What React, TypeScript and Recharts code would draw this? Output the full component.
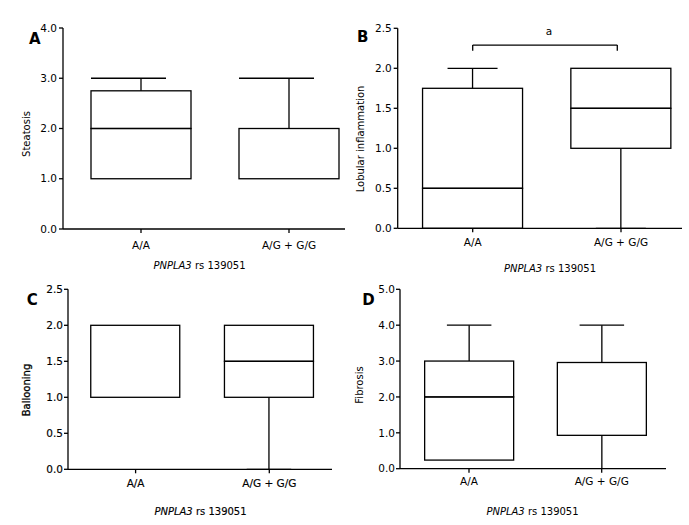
import React from 'react';
import { ComposedChart, Bar, XAxis, YAxis, ReferenceLine } from 'recharts';

// ---------- data ----------
const categories = ['A/A', 'A/G + G/G'];
const xTitleItalic = 'PNPLA3';
const xTitleRest = ' rs 139051';

const steatosisMin = [1.0, 1.0];
const steatosisQ1 = [1.0, 1.0];
const steatosisMedian = [2.0, 2.0];
const steatosisQ3 = [2.75, 2.0];
const steatosisMax = [3.0, 3.0];
const steatosisTicks = [0, 1, 2, 3, 4];

const lobularMin = [0, 0];
const lobularQ1 = [0, 1.0];
const lobularMedian = [0.5, 1.5];
const lobularQ3 = [1.75, 2.0];
const lobularMax = [2.0, 2.0];
const lobularTicks = [0, 0.5, 1, 1.5, 2, 2.5];
const lobularBracket = { from: 0, to: 0.975, level: 2.29, foot: 2.22, label: 'a' };

const ballooningMin = [1.0, 0];
const ballooningQ1 = [1.0, 1.0];
const ballooningMedian = [2.0, 1.5];
const ballooningQ3 = [2.0, 2.0];
const ballooningMax = [2.0, 2.0];
const ballooningTicks = [0, 0.5, 1, 1.5, 2, 2.5];

const fibrosisMin = [0.24, 0];
const fibrosisQ1 = [0.24, 0.93];
const fibrosisMedian = [2.0, 2.96];
const fibrosisQ3 = [3.0, 2.96];
const fibrosisMax = [4.0, 4.0];
const fibrosisTicks = [0, 1, 2, 3, 4, 5];

// ---------- styles ----------
const FONT = '"DejaVu Sans", Verdana, sans-serif';
const STROKE = '#000';
const SW = 1.3;
const TEXT = '#000';

function buildRows(min: number[], q1: number[], med: number[], q3: number[], max: number[]) {
  return categories.map((name, i) => ({
    idx: i,
    name,
    base: min[i],
    lowWhisker: q1[i] - min[i],
    lowBox: med[i] - q1[i],
    highBox: q3[i] - med[i],
    highWhisker: max[i] - q3[i],
  }));
}

const emptyShape = () => <g />;

const boxShape = (p: any) => {
  const hgt = Math.abs(p.height || 0);
  const top = Math.min(p.y, p.y + (p.height || 0));
  return <rect x={p.x} y={top} width={p.width} height={hgt} fill="none" stroke={STROKE} strokeWidth={SW} />;
};

const lowWhiskerShape = (cap: number[]) => (p: any) => {
  const hgt = Math.abs(p.height || 0);
  if (!(hgt > 0.5)) return <g />;
  const top = Math.min(p.y, p.y + p.height);
  const bottom = top + hgt;
  const cx = p.x + p.width / 2;
  return (
    <g stroke={STROKE} strokeWidth={SW}>
      <line x1={cx} x2={cx} y1={top} y2={bottom} />
      <line x1={p.x + cap[0] * p.width} x2={p.x + cap[1] * p.width} y1={bottom} y2={bottom} />
    </g>
  );
};

const highWhiskerShape = (cap: number[]) => (p: any) => {
  const hgt = Math.abs(p.height || 0);
  if (!(hgt > 0.5)) return <g />;
  const top = Math.min(p.y, p.y + p.height);
  const bottom = top + hgt;
  const cx = p.x + p.width / 2;
  return (
    <g stroke={STROKE} strokeWidth={SW}>
      <line x1={cx} x2={cx} y1={top} y2={bottom} />
      <line x1={p.x + cap[0] * p.width} x2={p.x + cap[1] * p.width} y1={top} y2={top} />
    </g>
  );
};

type Cfg = {
  left: number; top: number; w: number; h: number;
  x0: number; x1: number; y0: number; y1: number;
  c0: number; c1: number; barSize: number; cap: number[];
  yTickMargin: number; xTickMargin: number; bold: boolean;
  letter: string; letterX: number; letterY: number;
  yTitle: string; yTitleX: number; yTitleY: number;
  xTitleX: number; xTitleY: number;
};

const panelA: Cfg = {
  left: 0, top: 0, w: 345, h: 270,
  x0: 63, x1: 345, y0: 28, y1: 229, c0: 141, c1: 289, barSize: 100, cap: [0, 0.75],
  yTickMargin: 2, xTickMargin: 8.5, bold: false,
  letter: 'A', letterX: 29, letterY: 44.3,
  yTitle: 'Steatosis', yTitleX: 26.2, yTitleY: 134,
  xTitleX: 199.5, xTitleY: 268.5,
};
const panelB: Cfg = {
  left: 345, top: 0, w: 344, h: 280,
  x0: 397.7, x1: 682, y0: 28.3, y1: 228.3, c0: 472.7, c1: 621, barSize: 100, cap: [0.25, 0.75],
  yTickMargin: 2, xTickMargin: 6, bold: false,
  letter: 'B', letterX: 357, letterY: 42,
  yTitle: 'Lobular inflammation', yTitleX: 360, yTitleY: 139,
  xTitleX: 550, xTitleY: 272,
};
const panelC: Cfg = {
  left: 0, top: 270, w: 345, h: 255,
  x0: 68, x1: 332, y0: 289.3, y1: 469.3, c0: 135.6, c1: 269.3, barSize: 89, cap: [0.25, 0.75],
  yTickMargin: 1, xTickMargin: 6, bold: true,
  letter: 'C', letterX: 26.7, letterY: 305,
  yTitle: 'Ballooning', yTitleX: 26.5, yTitleY: 390,
  xTitleX: 200.5, xTitleY: 515,
};
const panelD: Cfg = {
  left: 345, top: 270, w: 344, h: 255,
  x0: 400, x1: 666, y0: 289.3, y1: 468.7, c0: 469, c1: 601.7, barSize: 89, cap: [0.25, 0.75],
  yTickMargin: 1, xTickMargin: 5, bold: false,
  letter: 'D', letterX: 362.3, letterY: 305,
  yTitle: 'Fibrosis', yTitleX: 359, yTitleY: 385,
  xTitleX: 532.5, xTitleY: 515,
};

function BoxPanel({ cfg, rows, ticks, bracket }: { cfg: Cfg; rows: any[]; ticks: number[]; bracket?: any }) {
  const Y_W = 40;
  const X_H = 30;
  const lx0 = cfg.x0 - cfg.left;
  const lx1 = cfg.x1 - cfg.left;
  const ly0 = cfg.y0 - cfg.top;
  const ly1 = cfg.y1 - cfg.top;
  const unit = cfg.c1 - cfg.c0;
  const xDomain = [-(cfg.c0 - cfg.x0) / unit, 1 + (cfg.x1 - cfg.c1) / unit];
  const margin = { left: lx0 - Y_W, right: cfg.w - lx1, top: ly0, bottom: cfg.h - ly1 - X_H };
  const textStroke = cfg.bold ? { stroke: TEXT, strokeWidth: 0.15 } : { stroke: 'none' };
  const tickStyle = { fontFamily: FONT, fontSize: 10.5, fill: TEXT, ...textStroke };

  const yLabel = () => {
    const x = cfg.yTitleX - cfg.left;
    const y = cfg.yTitleY - cfg.top;
    return (
      <g>
        <text x={cfg.letterX - cfg.left} y={cfg.letterY - cfg.top} fontFamily={FONT} fontSize={15} fontWeight="bold" fill="#000">
          {cfg.letter}
        </text>
        <text
          x={x}
          y={y}
          transform={`rotate(-90 ${x} ${y})`}
          textAnchor="middle"
          dominantBaseline="central"
          fontFamily={FONT}
          fontSize={10}
          fill={TEXT}
          {...(cfg.bold ? { stroke: TEXT, strokeWidth: 0.3 } : {})}
        >
          {cfg.yTitle}
        </text>
      </g>
    );
  };

  const xLabel = () => (
    <text
      x={cfg.xTitleX - cfg.left}
      y={cfg.xTitleY - cfg.top}
      textAnchor="middle"
      fontFamily={FONT}
      fontSize={10}
      fill={TEXT}
      {...(cfg.bold ? { stroke: TEXT, strokeWidth: 0.15 } : {})}
    >
      <tspan fontStyle="italic">{xTitleItalic}</tspan>
      {xTitleRest}
    </text>
  );

  const yMax = ticks[ticks.length - 1];

  return (
    <div style={{ position: 'absolute', left: cfg.left, top: cfg.top, width: cfg.w, height: cfg.h, overflow: 'hidden' }}>
      <ComposedChart width={cfg.w} height={cfg.h} data={rows} margin={margin}>
        <XAxis
          type="number"
          dataKey="idx"
          domain={xDomain}
          allowDataOverflow
          ticks={[0, 1]}
          interval={0}
          tickFormatter={(v: number) => categories[v] ?? ''}
          height={X_H}
          tickSize={4}
          tickMargin={cfg.xTickMargin}
          axisLine={{ stroke: STROKE, strokeWidth: SW }}
          tickLine={{ stroke: STROKE, strokeWidth: SW }}
          tick={tickStyle}
          label={xLabel}
        />
        <YAxis
          type="number"
          domain={[0, yMax]}
          allowDataOverflow
          ticks={ticks}
          interval={0}
          tickFormatter={(v: number) => v.toFixed(1)}
          width={Y_W}
          tickSize={4}
          tickMargin={cfg.yTickMargin}
          axisLine={{ stroke: STROKE, strokeWidth: SW }}
          tickLine={{ stroke: STROKE, strokeWidth: SW }}
          tick={tickStyle}
          label={yLabel}
        />
        <Bar dataKey="base" stackId="box" barSize={cfg.barSize} shape={emptyShape} isAnimationActive={false} />
        <Bar dataKey="lowWhisker" stackId="box" barSize={cfg.barSize} shape={lowWhiskerShape(cfg.cap)} isAnimationActive={false} />
        <Bar dataKey="lowBox" stackId="box" barSize={cfg.barSize} shape={boxShape} isAnimationActive={false} />
        <Bar dataKey="highBox" stackId="box" barSize={cfg.barSize} shape={boxShape} isAnimationActive={false} />
        <Bar dataKey="highWhisker" stackId="box" barSize={cfg.barSize} shape={highWhiskerShape(cfg.cap)} isAnimationActive={false} />
        {bracket && (
          <ReferenceLine
            segment={[{ x: bracket.from, y: bracket.level }, { x: bracket.to, y: bracket.level }]}
            stroke={STROKE}
            strokeWidth={SW}
            label={{ value: bracket.label, position: 'top', offset: 10, dx: 4, fontFamily: FONT, fontSize: 10.5, fill: TEXT }}
          />
        )}
        {bracket && (
          <ReferenceLine
            segment={[{ x: bracket.from, y: bracket.foot }, { x: bracket.from, y: bracket.level }]}
            stroke={STROKE}
            strokeWidth={SW}
          />
        )}
        {bracket && (
          <ReferenceLine
            segment={[{ x: bracket.to, y: bracket.foot }, { x: bracket.to, y: bracket.level }]}
            stroke={STROKE}
            strokeWidth={SW}
          />
        )}
      </ComposedChart>
    </div>
  );
}

export default function App() {
  const rowsA = buildRows(steatosisMin, steatosisQ1, steatosisMedian, steatosisQ3, steatosisMax);
  const rowsB = buildRows(lobularMin, lobularQ1, lobularMedian, lobularQ3, lobularMax);
  const rowsC = buildRows(ballooningMin, ballooningQ1, ballooningMedian, ballooningQ3, ballooningMax);
  const rowsD = buildRows(fibrosisMin, fibrosisQ1, fibrosisMedian, fibrosisQ3, fibrosisMax);
  return (
    <div style={{ position: 'absolute', left: 0, top: 0, width: 689, height: 525, background: '#fff', overflow: 'hidden' }}>
      <BoxPanel cfg={panelA} rows={rowsA} ticks={steatosisTicks} />
      <BoxPanel cfg={panelB} rows={rowsB} ticks={lobularTicks} bracket={lobularBracket} />
      <BoxPanel cfg={panelC} rows={rowsC} ticks={ballooningTicks} />
      <BoxPanel cfg={panelD} rows={rowsD} ticks={fibrosisTicks} />
    </div>
  );
}
